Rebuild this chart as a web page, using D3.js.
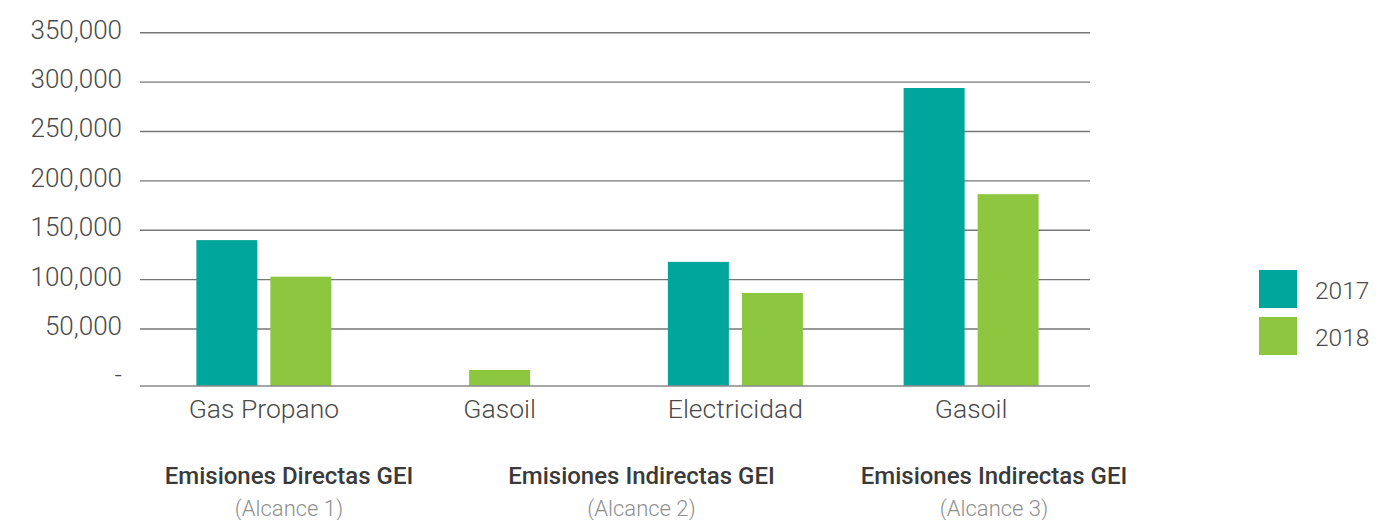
<!DOCTYPE html>
<html><head><meta charset="utf-8">
<script src="https://cdn.jsdelivr.net/npm/d3@7"></script>
<style>
html,body{margin:0;padding:0;background:#fff;}
svg{display:block;font-family:Roboto,sans-serif;}
</style></head>
<body>
<svg id="c" width="1398" height="520"></svg>
<script>
const categories = ["Gas Propano", "Gasoil", "Electricidad", "Gasoil"];
const seriesNames = ["2017", "2018"];
const values2017 = [140000, null, 118000, 294000];
const values2018 = [103000, 8500, 86500, 186500];
const tickValues = [0, 50000, 100000, 150000, 200000, 250000, 300000, 350000];
const tickLabels = ["-", "50,000", "100,000", "150,000", "200,000", "250,000", "300,000", "350,000"];
const groupTitles = ["Emisiones Directas GEI", "Emisiones Indirectas GEI", "Emisiones Indirectas GEI"];
const groupSubtitles = ["(Alcance 1)", "(Alcance 2)", "(Alcance 3)"];
const colors = ["#00A59B", "#8DC63F"];

const svg = d3.select("#c");
const plotLeft = 140, plotRight = 1090;
const yMinVal = -7700;
const y = d3.scaleLinear().domain([yMinVal, 350000]).range([386, 32.7]);
const x = d3.scaleBand().domain(d3.range(categories.length)).range([146, 1089]).padding(0);
const barW = 61, barStep = 74;

// gridlines
svg.append("g").selectAll("line").data(tickValues.filter(v => v > 0)).join("line")
  .attr("x1", plotLeft).attr("x2", plotRight)
  .attr("y1", d => y(d)).attr("y2", d => y(d))
  .attr("stroke", "#767676").attr("stroke-width", 1.4);

// tick labels
svg.append("g").selectAll("text").data(tickValues).join("text")
  .attr("x", 122).attr("y", (d) => y(d) - 3)
  .attr("text-anchor", "end").attr("dominant-baseline", "central")
  .attr("font-size", 26).attr("font-weight", 300).attr("fill", "#4a4a4a")
  .text((d, i) => tickLabels[i]);

// bars
const allVals = [values2017, values2018];
const barsG = svg.append("g");
categories.forEach((cat, ci) => {
  const present = seriesNames.map((s, si) => ({s, si, v: allVals[si][ci]})).filter(d => d.v != null);
  const n = present.length;
  const cx = x(ci) + x.bandwidth() / 2;
  barsG.selectAll(null).data(present).join("rect")
    .attr("x", (d, k) => cx + (k - (n - 1) / 2) * barStep - barW / 2)
    .attr("width", barW)
    .attr("y", d => y(d.v))
    .attr("height", d => y(yMinVal) - y(d.v))
    .attr("fill", d => colors[d.si]);
});

// baseline
svg.append("line").attr("x1", plotLeft).attr("x2", plotRight)
  .attr("y1", y(yMinVal)).attr("y2", y(yMinVal))
  .attr("stroke", "#8a8a8a").attr("stroke-width", 1.6);

// category labels
svg.append("g").selectAll("text").data(categories).join("text")
  .attr("x", (d, i) => x(i) + x.bandwidth() / 2)
  .attr("y", 408).attr("dominant-baseline", "central")
  .attr("text-anchor", "middle").attr("font-size", 26.5).attr("font-weight", 300).attr("fill", "#4a4a4a")
  .text(d => d);

// group titles
const groupX = d3.scalePoint().domain(d3.range(groupTitles.length)).range([289, 994]);
svg.append("g").selectAll("text").data(groupTitles).join("text")
  .attr("x", (d, i) => groupX(i)).attr("y", 476).attr("dominant-baseline", "central")
  .attr("text-anchor", "middle").attr("font-size", 24).attr("font-weight", 500).attr("fill", "#3a3a3a")
  .text(d => d);
svg.append("g").selectAll("text").data(groupSubtitles).join("text")
  .attr("x", (d, i) => groupX(i)).attr("y", 508).attr("dominant-baseline", "central")
  .attr("text-anchor", "middle").attr("font-size", 22).attr("font-weight", 300).attr("fill", "#8f8f8f")
  .text(d => d);

// legend
const lg = svg.append("g");
seriesNames.forEach((s, i) => {
  lg.append("rect").attr("x", 1259).attr("y", 270 + i * 47).attr("width", 38).attr("height", 38).attr("fill", colors[i]);
  lg.append("text").attr("x", 1315).attr("y", 290 + i * 47).attr("dominant-baseline", "central")
    .attr("font-size", 24.5).attr("font-weight", 300).attr("fill", "#4a4a4a").text(s);
});
</script>
</body></html>
